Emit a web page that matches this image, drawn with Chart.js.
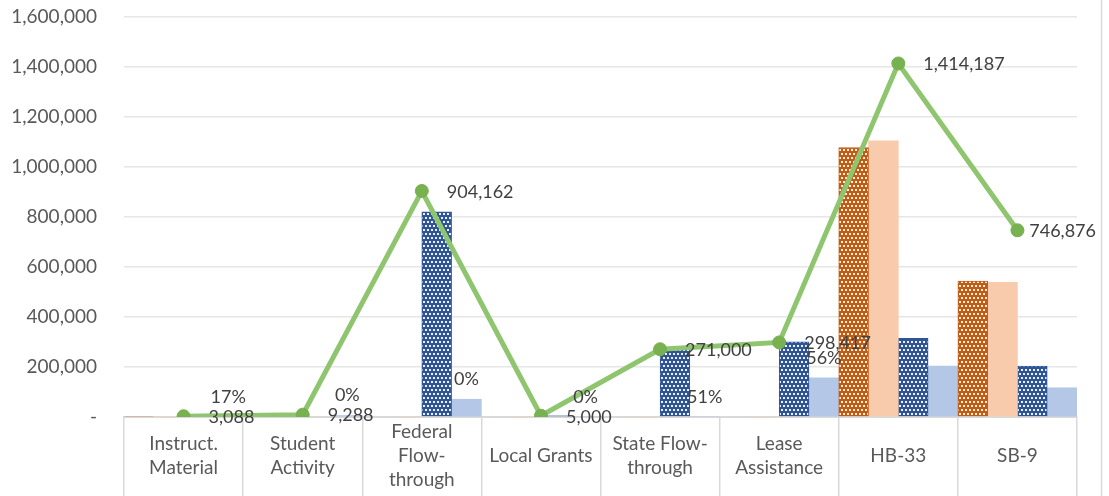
<!DOCTYPE html>
<html>
<head>
<meta charset="utf-8">
<script src="https://cdn.jsdelivr.net/npm/chart.js@4/dist/chart.umd.min.js"></script>
<style>
html,body{margin:0;padding:0;background:#fff;}
#wrap{width:1109px;height:496px;position:relative;}
</style>
</head>
<body>
<div id="wrap"><canvas id="c" width="1109" height="496"></canvas></div>
<script>
// ---- data ----
const categories = [
  ['Instruct.', 'Material'],
  ['Student', 'Activity'],
  ['Federal', 'Flow-', 'through'],
  'Local Grants',
  ['State Flow-', 'through'],
  ['Lease', 'Assistance'],
  'HB-33',
  'SB-9'
];
const seriesOrange   = [3088, 0, 0, 0, 0, 0, 1078000, 544000];
const seriesPeach    = [0, 0, 0, 0, 0, 0, 1105000, 539000];
const seriesBlue     = [0, 0, 821000, 5000, 271000, 301000, 315000, 204000];
const seriesLightBlue= [0, 6000, 71000, 0, 0, 157000, 204000, 117000];
const lineTotals     = [3088, 9288, 904162, 5000, 271000, 298417, 1414187, 746876];
const percentLabels  = ['17%', '0%', '0%', '0%', '51%', '56%', '', ''];
const yTickMax = 1600000;
const yTickStep = 200000;

// ---- patterns ----
function dotPattern(color) {
  const t = document.createElement('canvas');
  t.width = 8; t.height = 8;
  const g = t.getContext('2d');
  g.fillStyle = color; g.fillRect(0, 0, 8, 8);
  g.fillStyle = 'rgba(255,255,255,0.92)';
  g.fillRect(1, 1, 2, 2); g.fillRect(5, 1, 2, 2);
  g.fillRect(3, 5, 2, 2); g.fillRect(7, 5, 1, 2); g.fillRect(0, 5, 1, 2);
  return document.getElementById('c').getContext('2d').createPattern(t, 'repeat');
}
const orangeDots = dotPattern('#c55a11');
const blueDots = dotPattern('#2f5597');

const FONT = 'Lato, "Open Sans", sans-serif';

const labelPlugin = {
  id: 'labels',
  afterDatasetsDraw(chart) {
    const ctx = chart.ctx;
    ctx.save();
    ctx.font = '18px ' + FONT;
    ctx.fillStyle = '#404040';
    const lbMeta = chart.getDatasetMeta(4);
    ctx.textAlign = 'center';
    ctx.textBaseline = 'middle';
    lbMeta.data.forEach((bar, i) => {
      if (percentLabels[i]) ctx.fillText(percentLabels[i], bar.x, bar.y - 20);
    });
    const lm = chart.getDatasetMeta(0);
    ctx.textAlign = 'left';
    const maxRight = chart.width - 13;
    lm.data.forEach((pt, i) => {
      const txt = lineTotals[i].toLocaleString('en-US');
      let x = pt.x + 25;
      const w = ctx.measureText(txt).width;
      if (x + w > maxRight) x = maxRight - w;
      ctx.fillText(txt, x, pt.y + 1);
    });
    ctx.restore();
  },
  afterDraw(chart) {
    const ctx = chart.ctx;
    ctx.save();
    ctx.strokeStyle = '#d9d9d9';
    ctx.lineWidth = 1.5;
    ctx.beginPath();
    ctx.moveTo(1101.5, 0); ctx.lineTo(1101.5, 496);
    ctx.stroke();
    ctx.restore();
  }
};

new Chart(document.getElementById('c'), {
  type: 'bar',
  data: {
    labels: categories,
    datasets: [
      { type: 'line', data: lineTotals, order: 0,
        borderColor: '#8fc56e', borderWidth: 5,
        pointRadius: 6.5, pointBackgroundColor: '#77b150', pointBorderColor: '#77b150', pointBorderWidth: 1,
        tension: 0 },
      { data: seriesOrange, backgroundColor: orangeDots, borderColor: '#c55a11', borderWidth: 1, order: 1 },
      { data: seriesPeach, backgroundColor: '#f8cbad', borderWidth: 0, order: 1 },
      { data: seriesBlue, backgroundColor: blueDots, borderColor: '#2f5597', borderWidth: 1, order: 1 },
      { data: seriesLightBlue, backgroundColor: '#b4c7e7', borderWidth: 0, order: 1 }
    ]
  },
  options: {
    responsive: false,
    animation: false,
    devicePixelRatio: 1,
    layout: { padding: { left: 0, right: 32, top: 17, bottom: 0 } },
    plugins: { legend: { display: false }, tooltip: { enabled: false } },
    datasets: { bar: { categoryPercentage: 1, barPercentage: 1 } },
    scales: {
      x: {
        offset: true,
        grid: { offset: true, drawOnChartArea: false, drawTicks: true, tickLength: 79, color: '#d9d9d9', lineWidth: 1.5 },
        border: { display: true, color: '#d9d9d9', width: 2 },
        ticks: { autoSkip: false, maxRotation: 0, minRotation: 0, crossAlign: 'center', padding: -64,
          color: '#595959', font: { family: FONT, size: 19, lineHeight: 1.27 } },
        afterFit(s) { s.height = 79; s.paddingLeft = 0; s.paddingRight = 0; }
      },
      y: {
        min: 0, max: yTickMax,
        grid: { drawTicks: false, color: '#e6e6e6', lineWidth: 1.5 },
        border: { display: false },
        ticks: { stepSize: yTickStep, padding: 27, color: '#595959', font: { family: FONT, size: 19 },
          callback: v => v === 0 ? '-' : v.toLocaleString('en-US') },
        afterFit(s) { s.width = 124; s.paddingTop = 0; s.paddingBottom = 0; }
      }
    }
  },
  plugins: [labelPlugin]
});
</script>
</body>
</html>
